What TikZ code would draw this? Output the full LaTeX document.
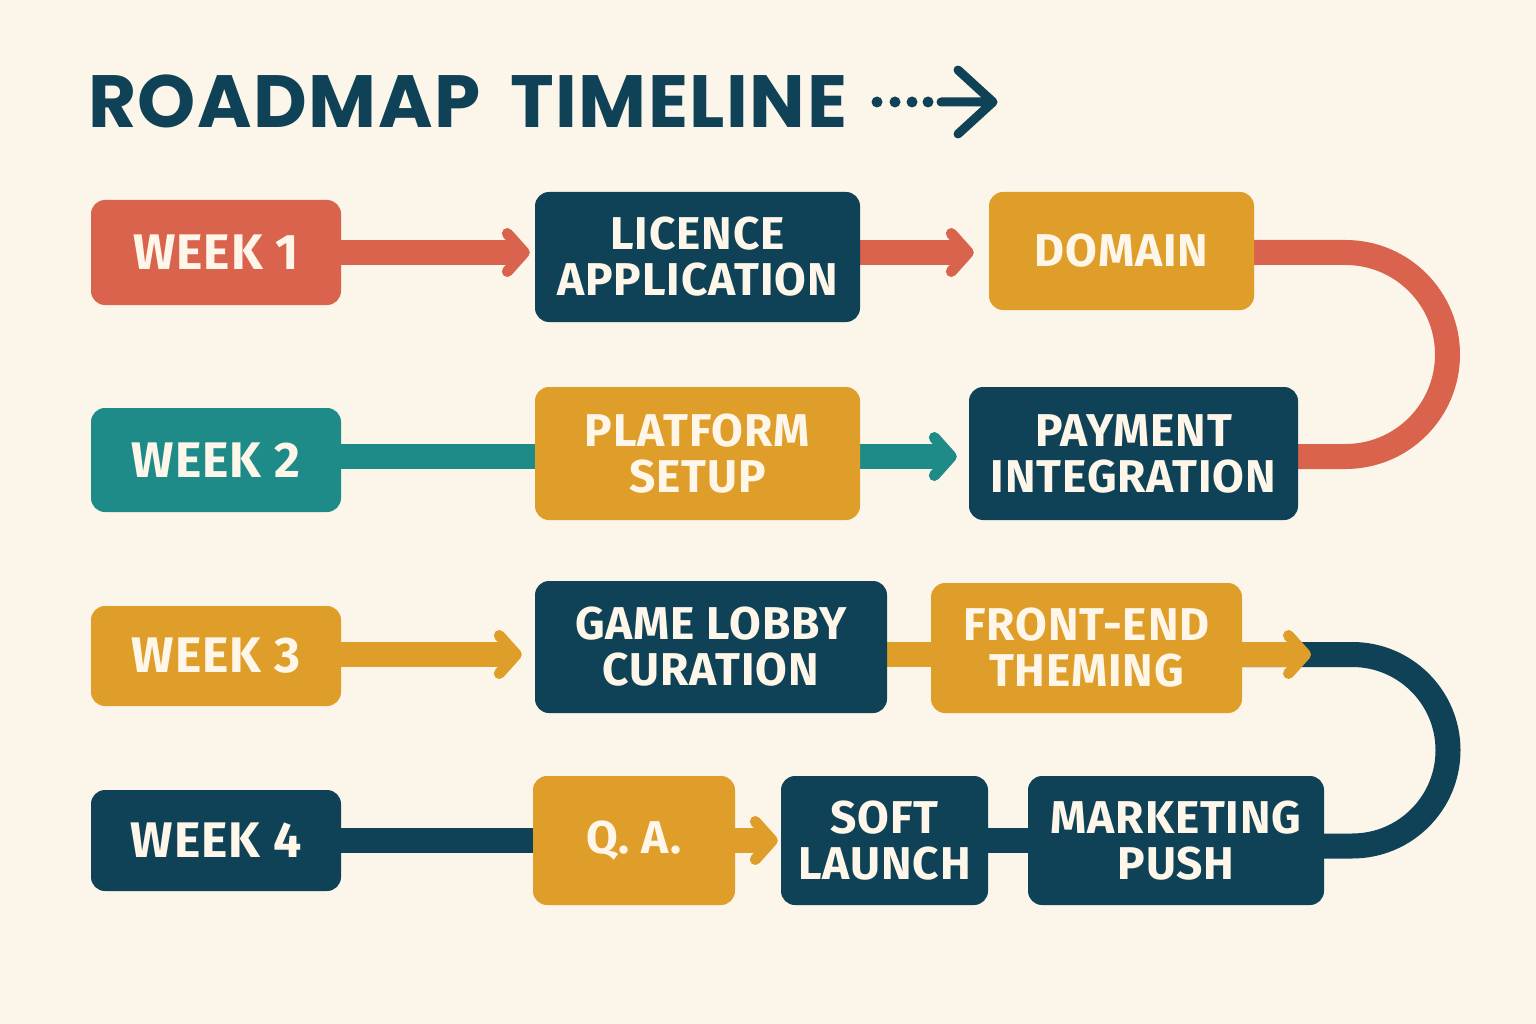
\documentclass[tikz,border=0pt]{standalone}
\usepackage{fontspec}
\setmainfont{Fira Sans}[LetterSpace=2]
\newfontfamily\titlefont{Poppins}[LetterSpace=2]
\usetikzlibrary{arrows.meta}
\definecolor{bgc}{HTML}{FCF5EA}
\definecolor{navy}{HTML}{0F4256}
\definecolor{redc}{HTML}{D9634C}
\definecolor{gold}{HTML}{DF9E29}
\definecolor{tealc}{HTML}{1F8B88}
\definecolor{cream}{HTML}{FDF6E9}
\pgfdeclarelayer{bg}
\pgfsetlayers{bg,main}
\begin{document}
\begin{tikzpicture}[x=1pt,y=-1pt,
  box/.style={rounded corners=14pt, inner sep=0pt, align=center, text=cream,
    font=\fontsize{46}{46}\selectfont\bfseries},
  wk/.style={box, minimum width=250pt, font=\fontsize{50}{50}\selectfont\bfseries},
  conn/.style={line width=25pt},
  tip/.style={-{Straight Barb[length=17pt,width=38pt,line width=11pt,round]}}
]
\useasboundingbox (0,0) rectangle (1536,1024);

% title
\node[anchor=west, inner sep=0pt, text=navy, font=\titlefont\bfseries\fontsize{74}{74}\selectfont] (title) at (88,101) {ROADMAP\hspace{30pt}TIMELINE};
\foreach \dx in {877,895,912,928} \fill[navy] (\dx,102) circle (5.5pt);
\draw[navy, line width=9pt, line cap=round, line join=round] (941,102) -- (993,102) (958,70) -- (993,102) -- (958,134);

% nodes
\node[wk, fill=redc, minimum height=105pt] (w1) at (216,252.5) {WEEK 1};
\node[box, fill=navy, minimum width=325pt, minimum height=130pt] (lic) at (697.5,257) {LICENCE\\APPLICATION};
\node[box, fill=gold, minimum width=265pt, minimum height=118pt] (dom) at (1121.5,251) {DOMAIN};

\node[wk, fill=tealc, minimum height=104pt] (w2) at (216,460) {WEEK 2};
\node[box, fill=gold, minimum width=325pt, minimum height=133pt] (plat) at (697.5,453.5) {PLATFORM\\SETUP};
\node[box, fill=navy, minimum width=329pt, minimum height=133pt] (pay) at (1133.5,453.5) {PAYMENT\\INTEGRATION};

\node[wk, fill=gold, minimum height=100pt] (w3) at (216,656) {WEEK 3};
\node[box, fill=navy, minimum width=352pt, minimum height=132pt] (game) at (711,647) {GAME LOBBY\\CURATION};
\node[box, fill=gold, minimum width=311pt, minimum height=130pt] (front) at (1086.5,648) {FRONT-END\\THEMING};

\node[wk, fill=navy, minimum height=101pt] (w4) at (216,840.5) {WEEK 4};
\node[box, fill=gold, minimum width=202pt, minimum height=129pt] (qa) at (634,840.5) {Q. A.};
\node[box, fill=navy, minimum width=207pt, minimum height=129pt] (soft) at (884.5,840.5) {SOFT\\LAUNCH};
\node[box, fill=navy, minimum width=296pt, minimum height=129pt] (mkt) at (1176,840.5) {MARKETING\\PUSH};

\coordinate (r1) at (1447.5,252.5);
\coordinate (r2) at (1447.5,456.5);
\coordinate (r3) at (1448,654.5);
\coordinate (r4) at (1448,846);
\coordinate (r3a) at (1311,654.5);

\begin{pgfonlayer}{bg}
\fill[bgc] (0,0) rectangle (1536,1024);
% row 1
\draw[conn, redc, tip, shorten >=5pt] (w1.east) -- (lic.west |- w1.east);
\draw[conn, redc, tip, shorten >=15pt] (lic.east |- w1.east) -- (dom.west |- w1.east);
\draw[conn, redc, rounded corners=102pt] (dom.east |- r1) -- (r1) -- (r2) -- (pay.east |- r2);
% row 2
\draw[conn, tealc] (w2.east |- r2) -- (plat.center |- r2);
\draw[conn, tealc, tip, shorten >=12pt] (plat.east |- r2) -- (pay.west |- r2);
% row 3
\draw[conn, gold, tip, shorten >=13pt] (w3.east |- r3) -- (game.west |- r3);
\draw[conn, gold] (game.east |- r3) -- (front.west |- r3);
\draw[conn, navy, rounded corners=95.75pt] (front.east |- r3) -- (r3) -- (r4) -- (mkt.east |- r4);
\draw[conn, gold, tip] (front.east |- r3) -- (r3a);
% row 4
\draw[conn, navy] (w4.east) -- (qa.center |- w4.east);
\draw[conn, gold, tip, shorten >=3pt] (qa.east) -- (soft.west);
\draw[conn, navy] (soft.east) -- (mkt.west);
\end{pgfonlayer}
\end{tikzpicture}
\end{document}
